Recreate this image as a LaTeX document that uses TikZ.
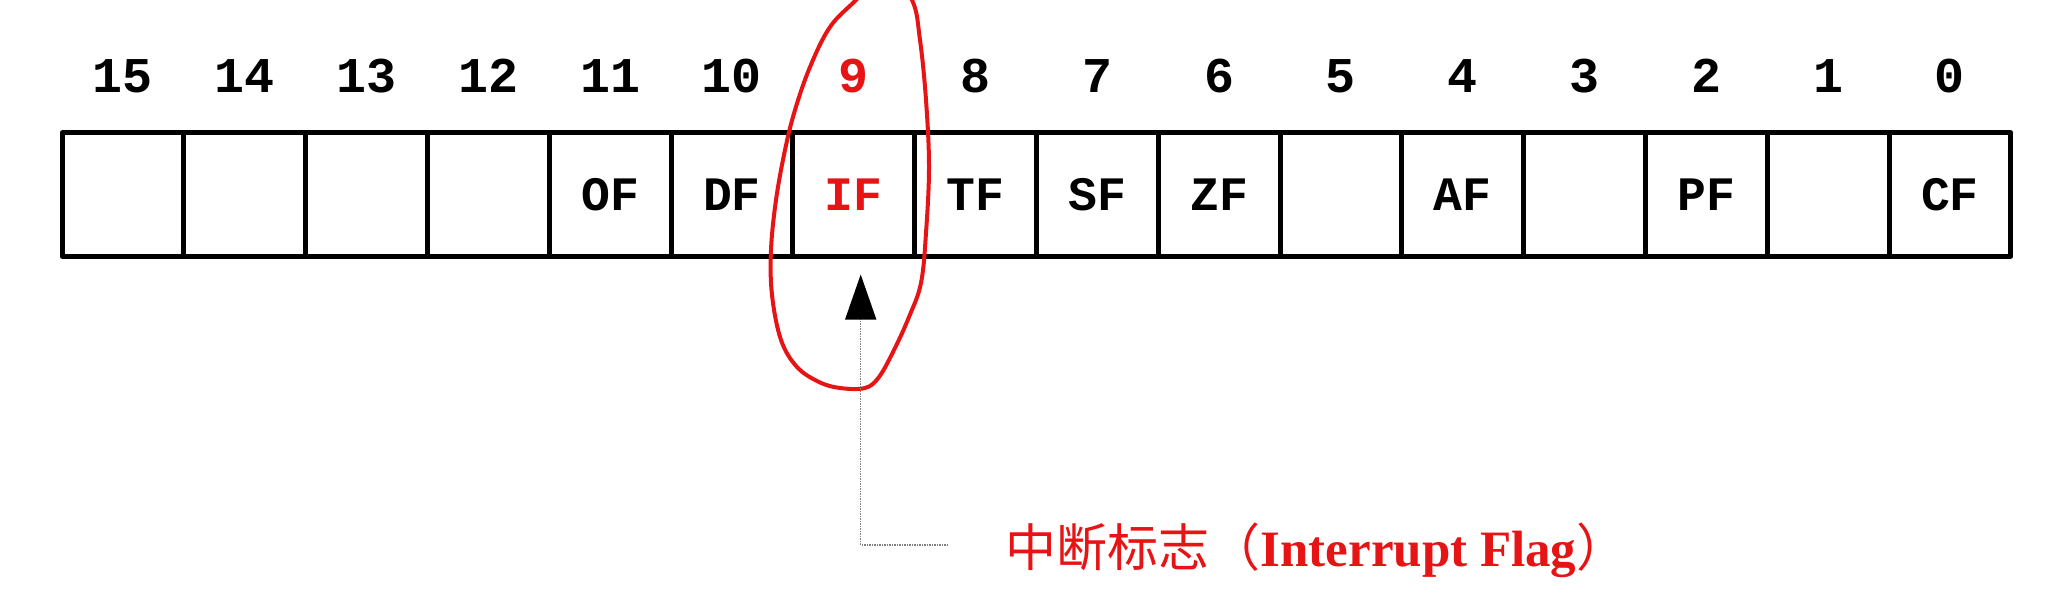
\documentclass[tikz,border=0pt]{standalone}
\usepackage{fontspec}
\setmainfont{Liberation Serif}
\setmonofont{Liberation Mono}
\newfontfamily\cjkfont{Noto Sans CJK SC}
\usetikzlibrary{arrows.meta}
\definecolor{flagred}{RGB}{230,20,20}
\begin{document}
\begin{tikzpicture}[x=1pt,y=-1pt,line join=round,
    cell/.style={draw,line width=5pt,minimum width=121.8pt,minimum height=123pt,inner sep=0pt,font=\fontsize{48}{48}\ttfamily\bfseries},
    bitno/.style={inner sep=0pt,font=\fontsize{50}{50}\ttfamily\bfseries},
    pointer/.style={densely dotted,line width=1.5pt,gray,-{Triangle[length=45pt,width=31pt,color=black]}},
    declare function={cx(\b)=122.9+(15-\b)*121.8;}]
  \useasboundingbox (0,0) rectangle (2066,596);
  \clip (0,0) rectangle (2066,596);
  \foreach \b/\lab/\col in {15/{}/black,14/{}/black,13/{}/black,12/{}/black,11/OF/black,10/DF/black,9/IF/flagred,8/TF/black,
                            7/SF/black,6/ZF/black,5/{}/black,4/AF/black,3/{}/black,2/PF/black,1/{}/black,0/CF/black}
    \node[cell,text=\col] (cell\b) at ({cx(\b)},194.5) {\lab}
      node[bitno,text=\col] (bit\b) at ({cx(\b)},76) {\b};

  \draw[flagred,line width=4pt] plot[smooth cycle,tension=0.6] coordinates {
    (886,-30) (912,0) (920,40) (926,100) (929,167) (926,233) (921,283) (909,317) (894,350) (879,377)
    (865,388) (840,388) (819,382) (797,367) (781,340) (772,295) (771,250) (776,200) (785,150) (795,110)
    (810,67) (830,27) (856,0)};

  \node[anchor=base west,text=flagred,font=\fontsize{51}{51}\selectfont] (flag) at (1002,566)
    {{\cjkfont 中断标志（}\textbf{Interrupt Flag}{\cjkfont ）}};
  \coordinate (tip) at ([xshift=7pt,yshift=-16pt]cell9.south);
  \coordinate (elbow) at (948,545);
  \draw[pointer] (elbow) -| (tip);
\end{tikzpicture}
\end{document}
